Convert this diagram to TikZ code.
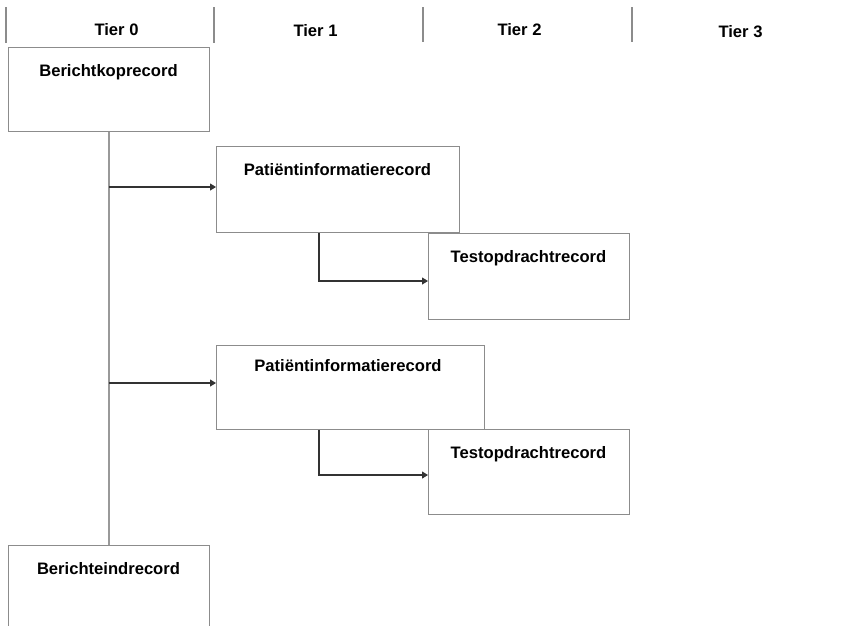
\documentclass[tikz,border=0pt]{standalone}
\usepackage{fontspec}
\setmainfont{Liberation Sans}
\usetikzlibrary{arrows.meta,calc}
\begin{document}
\begin{tikzpicture}[x=1pt,y=-1pt,
  rec/.style={draw=black!45,line width=0.8pt,fill=white,anchor=north west,inner sep=0pt},
  ttl/.style={font=\fontsize{16.6}{19}\selectfont\bfseries,anchor=base,inner sep=0pt},
  tier/.style={font=\fontsize{16.6}{19}\selectfont\bfseries,anchor=base,inner sep=0pt},
  sep/.style={draw=black!45,line width=1.2pt},
  trunk/.style={draw=black!40,line width=1.3pt},
  arr/.style={draw=black!80,line width=1.1pt,-{Triangle[length=6pt,width=7pt]}}]
\useasboundingbox (0,0) rectangle (842,625);
\clip (0,0) rectangle (842,625);
% tier header
\draw[sep] (6,7) -- (6,43);
\draw[sep] (214,7) -- (214,43);
\draw[sep] (423,7) -- (423,42);
\draw[sep] (632,7) -- (632,42);
\node[tier] (t0) at (116.5,35) {Tier 0};
\node[tier] (t1) at (315.5,36) {Tier 1};
\node[tier] (t2) at (519.5,35) {Tier 2};
\node[tier] (t3) at (740.5,37) {Tier 3};
% boxes
\node[rec,minimum width=201pt,minimum height=84pt] (kop) at (8,47) {};
\node[ttl] (kopt) at (108.5,76) {Berichtkoprecord};
\node[rec,minimum width=243pt,minimum height=86pt] (pat1) at (216,146) {};
\node[ttl] (pat1t) at (337.5,175) {Patiëntinformatierecord};
\node[rec,minimum width=201pt,minimum height=86pt] (test1) at (428,233) {};
\node[ttl] (test1t) at (528.5,262) {Testopdrachtrecord};
\node[rec,minimum width=268pt,minimum height=84pt] (pat2) at (216,345) {};
\node[ttl] (pat2t) at (348,371) {Patiëntinformatierecord};
\node[rec,minimum width=201pt,minimum height=85pt] (test2) at (428,429) {};
\node[ttl] (test2t) at (528.5,458) {Testopdrachtrecord};
\node[rec,minimum width=201pt,minimum height=100pt] (eind) at (8,545) {};
\node[ttl] (eindt) at (108.5,574) {Berichteindrecord};
% connectors
\coordinate (a1) at (216,187);
\coordinate (a2) at (216,383);
\coordinate (b1) at (428,281);
\coordinate (b2) at (428,475);
\draw[trunk] (kop.south) -- (eind.north);
\draw[arr] (kop.south |- a1) -- (a1);
\draw[arr] (kop.south |- a2) -- (a2);
\draw[arr] ($(pat1.south west)+(103,0)$) |- (b1);
\draw[arr] ($(pat2.south west)+(103,0)$) |- (b2);
\end{tikzpicture}
\end{document}
